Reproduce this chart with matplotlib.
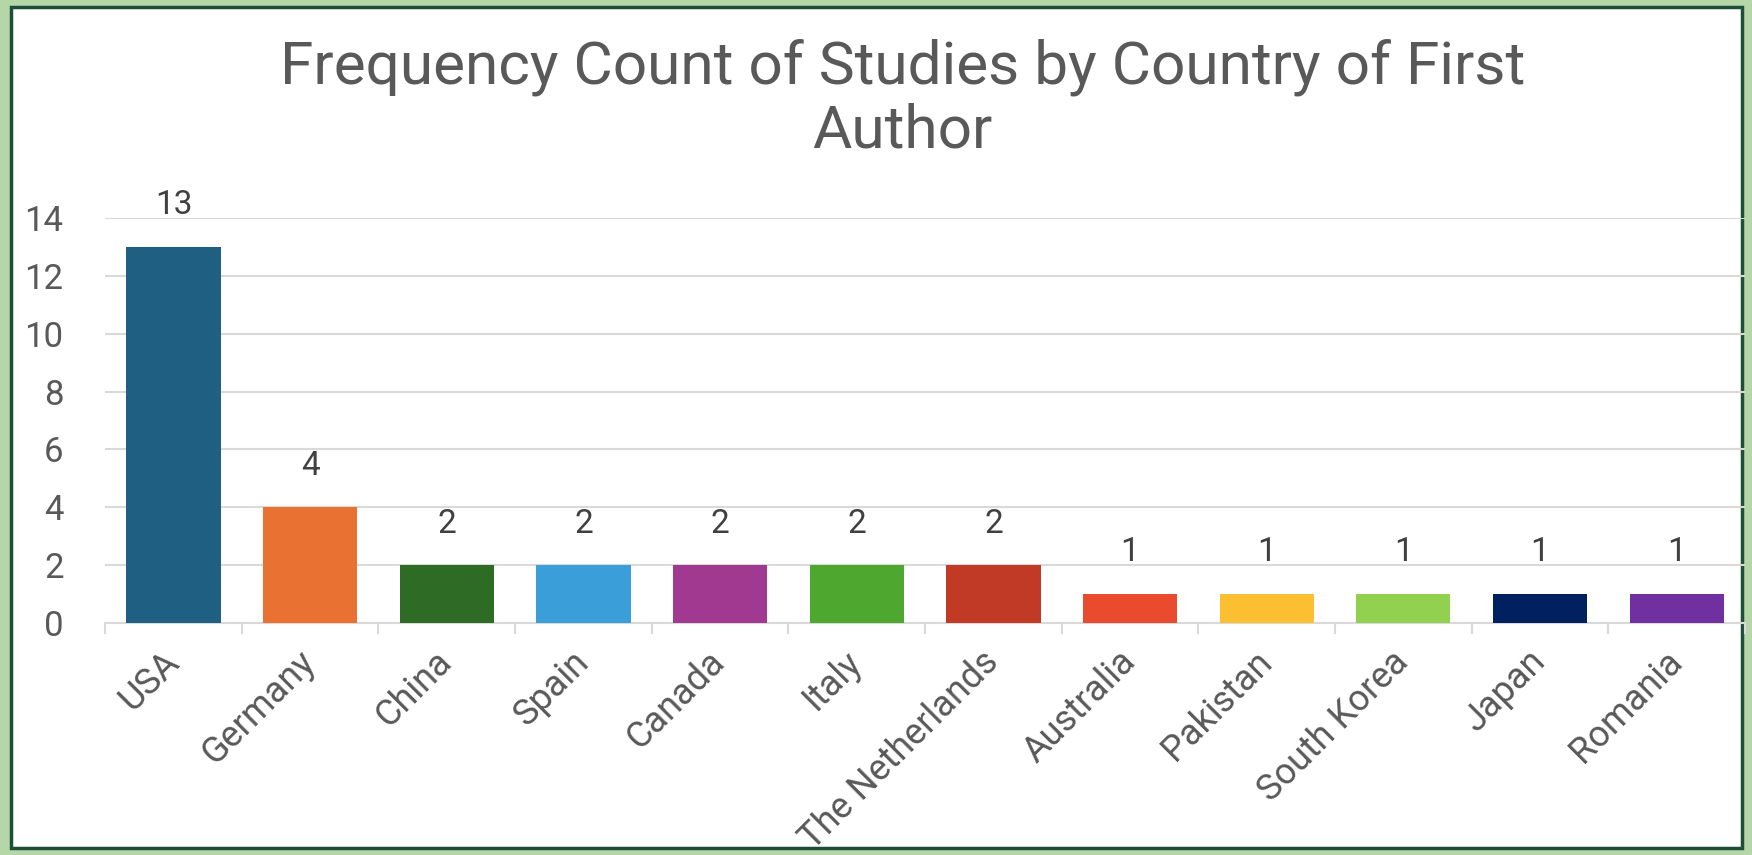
import numpy as np
import matplotlib.pyplot as plt
from matplotlib.patches import Rectangle

# landen en aantallen
countries = ["USA", "Germany", "China", "Spain", "Canada", "Italy",
             "The Netherlands", "Australia", "Pakistan", "South Korea",
             "Japan", "Romania"]
counts = [13, 4, 2, 2, 2, 2, 2, 1, 1, 1, 1, 1]
colors = ["#1f5f82", "#e97132", "#2e6b24", "#3a9fd8", "#a0398f", "#4ea72e",
          "#c13a25", "#ea4a2e", "#fbbf31", "#92d050", "#002060", "#7030a0"]
yticks = [0, 2, 4, 6, 8, 10, 12, 14]

plt.rcParams['font.family'] = ['Roboto', 'DejaVu Sans']
grey = "#595959"

fig = plt.figure(figsize=(17.52, 8.55), dpi=100)
fig.patch.set_facecolor("#b5d6a6")
# witte kaart met donkergroene rand
fig.patches.append(Rectangle((11/1752, 7/855), 1731/1752, 841/855,
                             transform=fig.transFigure, facecolor="white",
                             edgecolor="#1e4d3a", linewidth=2.5, zorder=-5))

ax = fig.add_axes([0.060, 0.2713, 0.936, 0.4737])
ax.set_facecolor("none")
x = np.arange(len(countries))
bars = ax.bar(x, counts, width=0.69, color=colors, zorder=3)

for xi, c in zip(x, counts):
    ax.annotate(str(c), (xi, c), xytext=(0, 30), textcoords="offset points",
                ha="center", va="center", fontsize=24, color="#404040",
                annotation_clip=False)

ax.set_xlim(-0.5, len(countries) - 0.5)
ax.set_ylim(0, 14)
ax.set_yticks(yticks)
ax.yaxis.grid(True, color="#d9d9d9", linewidth=1.5, zorder=0)
ax.tick_params(axis="y", length=0, pad=30, labelsize=25, labelcolor=grey)

ax.set_xticks(x)
ax.set_xticklabels(countries)
ax.set_xticks(np.arange(-0.5, len(countries)), minor=True)
ax.tick_params(axis="x", which="major", length=0, pad=24, labelsize=26,
               labelcolor=grey)
ax.tick_params(axis="x", which="minor", length=8, width=1.5, color="#d9d9d9")
plt.setp(ax.get_xticklabels(), rotation=45, ha="right", va="center",
         rotation_mode="anchor")

for s in ["top", "right", "left"]:
    ax.spines[s].set_visible(False)
ax.spines["bottom"].set_color("#d9d9d9")
ax.spines["bottom"].set_linewidth(1.5)

fig.text(0.515, 0.884, "Frequency Count of Studies by Country of First\nAuthor",
         ha="center", va="center", fontsize=43.5, color=grey, linespacing=1.15)

plt.savefig("out.png", dpi=100)
